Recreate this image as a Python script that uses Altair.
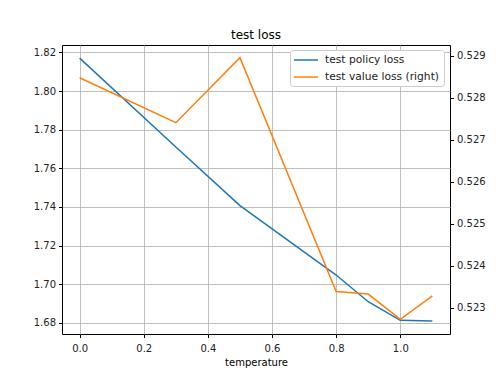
import altair as alt
import pandas as pd

temperature = [0.0, 0.3, 0.5, 0.8, 0.9, 1.0, 1.1]
policy_loss = [1.817, 1.771, 1.7407, 1.7048, 1.691, 1.6814, 1.681]
value_loss = [0.52848, 0.52741, 0.52896, 0.52339, 0.52333, 0.52273, 0.52329]

df = pd.DataFrame({"temperature": temperature, "policy": policy_loss, "value": value_loss})

FONT = "DejaVu Sans"
names = ["test policy loss", "test value loss (right)"]
color_scale = alt.Scale(domain=names, range=["#1f77b4", "#ff7f0e"])

x = alt.X("temperature:Q",
          scale=alt.Scale(domain=[-0.055, 1.155], nice=False, zero=False),
          axis=alt.Axis(title="temperature", values=[0.0, 0.2, 0.4, 0.6, 0.8, 1.0],
                        format=".1f", grid=True, gridColor="#b0b0b0", gridWidth=0.8,
                        tickColor="black", domain=False, labelColor="#222",
                        labelFontSize=10, titleFontSize=10, titleFontWeight="normal",
                        titlePadding=4, tickSize=3.5, labelPadding=6))

legend = alt.Legend(title=None, orient="none", legendX=228, legendY=5,
                    symbolType="M-2.4,0H2.4",
                    symbolStrokeWidth=1.5, symbolSize=100, labelFontSize=10.7,
                    fillColor="white", strokeColor="#cccccc", padding=4,
                    rowPadding=6, labelColor="#222", cornerRadius=3,
                    symbolOffset=6, labelOffset=13)

left = alt.Chart(df).transform_calculate(series="'test policy loss'").mark_line(strokeWidth=1.5).encode(
    x=x,
    y=alt.Y("policy:Q",
            scale=alt.Scale(domain=[1.6743, 1.8238], nice=False, zero=False),
            axis=alt.Axis(title=None, values=[1.68, 1.70, 1.72, 1.74, 1.76, 1.78, 1.80, 1.82],
                          format=".2f", grid=True, gridColor="#b0b0b0", gridWidth=0.8,
                          tickColor="black", domain=False, labelColor="#222",
                          labelFontSize=10, tickSize=3.5, labelPadding=3)),
    color=alt.Color("series:N", scale=color_scale, legend=legend),
)

right = alt.Chart(df).transform_calculate(series="'test value loss (right)'").mark_line(strokeWidth=1.5).encode(
    x=x,
    y=alt.Y("value:Q",
            scale=alt.Scale(domain=[0.52238, 0.52926], nice=False, zero=False),
            axis=alt.Axis(title=None, orient="right",
                          values=[0.523, 0.524, 0.525, 0.526, 0.527, 0.528, 0.529],
                          format=".3f", grid=False, tickColor="black", domain=False,
                          labelColor="#222", labelFontSize=10, tickSize=3.5, labelPadding=3)),
    color=alt.Color("series:N", scale=color_scale, legend=legend),
)

chart = alt.layer(left, right).resolve_scale(y="independent").properties(
    width=388, height=289,
    title=alt.TitleParams("test loss", fontSize=12, font=FONT, fontWeight="normal",
                          anchor="middle", offset=3, color="black"),
    autosize=alt.AutoSizeParams(type="none"),
    padding={"left": 54, "top": 37, "right": 40, "bottom": 38},
).configure(font=FONT).configure_view(stroke="black", strokeWidth=1)

chart.save("out.html", embed_options={"renderer": "svg", "actions": False})
